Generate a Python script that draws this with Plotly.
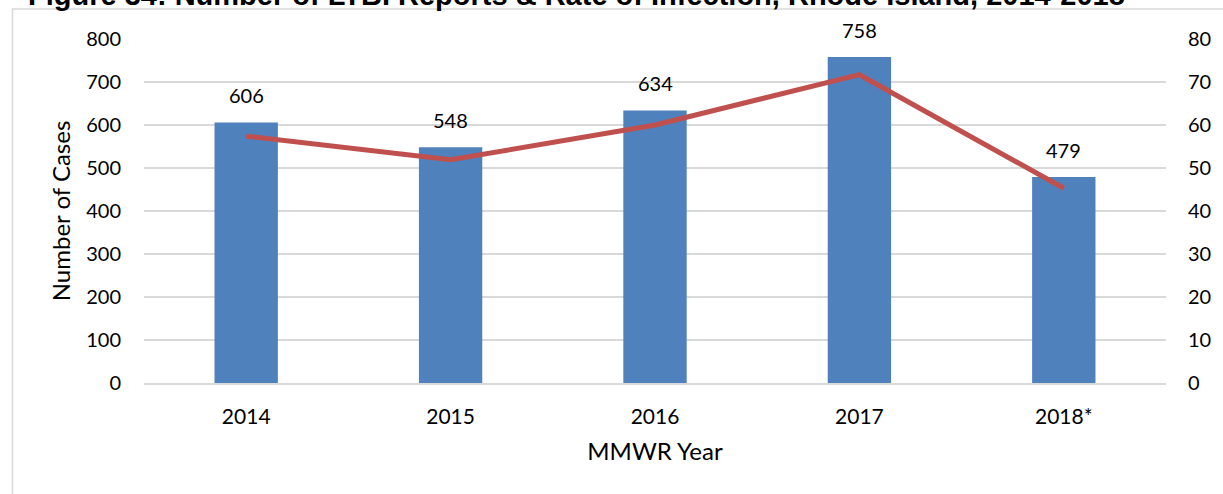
import plotly.graph_objects as go

# Reported LTBI cases and rate per 100,000 by MMWR year
years = ["2014", "2015", "2016", "2017", "2018*"]
cases = [606, 548, 634, 758, 479]
rates = [57.4, 51.9, 60.0, 71.7, 45.3]

W, H = 1223, 494
ML, MR, MT, MB = 144, 53, 39, 111
PW, PH = W - ML - MR, H - MT - MB


def px_x(p):
    return (p - ML) / PW


def px_y(p):
    return (H - MB - p) / PH


FONT = "Lato"
TXT = "#000000"
GRID = "#D9D9D9"

fig = go.Figure()

fig.add_trace(go.Bar(
    x=years, y=cases, name="Number of Cases",
    marker=dict(color="#4F81BD", line=dict(width=0)),
    yaxis="y",
))

fig.add_trace(go.Scatter(
    x=years, y=rates, name="Rate",
    mode="lines",
    line=dict(color="#C0504D", width=5),
    yaxis="y2",
))

# value labels above the bars (x given as category index)
for i, c in enumerate(cases):
    fig.add_annotation(
        x=i, y=c, xref="x", yref="y",
        text=str(c), showarrow=False,
        yanchor="bottom", yshift=13,
        font=dict(family=FONT, size=20, color=TXT),
    )

# figure heading
fig.add_annotation(
    x=px_x(26), y=px_y(-5), xref="paper", yref="paper",
    xanchor="left", yanchor="middle",
    text="Figure 34: Number of LTBI Reports &amp; Rate of Infection, Rhode Island, 2014-2018",
    showarrow=False,
    font=dict(family="Liberation Sans", size=29, color=TXT, weight="bold"),
)

# chart frame
fig.add_shape(
    type="rect", xref="paper", yref="paper",
    x0=px_x(12), y0=px_y(H + 20), x1=px_x(W + 20), y1=px_y(9),
    line=dict(color=GRID, width=1.5), fillcolor="rgba(0,0,0,0)",
    layer="below",
)

fig.update_layout(
    width=W, height=H,
    margin=dict(l=ML, r=MR, t=MT, b=MB),
    paper_bgcolor="white", plot_bgcolor="white",
    showlegend=False,
    bargap=0.69,
    font=dict(family=FONT, size=20, color=TXT),
    xaxis=dict(
        type="category", range=[-0.5, len(years) - 0.5], autorange=False,
        showgrid=False, showline=True, linecolor=GRID, linewidth=1.5,
        ticks="", ticklabelstandoff=14,
        tickfont=dict(family=FONT, size=21, color=TXT),
        title=dict(text="MMWR Year", font=dict(family=FONT, size=24, color=TXT), standoff=16),
    ),
    yaxis=dict(
        range=[0, 800], dtick=100, autorange=False,
        showgrid=True, gridcolor=GRID, gridwidth=1.5,
        zeroline=False, showline=False, ticks="",
        ticklabelstandoff=22,
        tickfont=dict(family=FONT, size=20, color=TXT),
        title=dict(text="Number of Cases", font=dict(family=FONT, size=24, color=TXT), standoff=8),
    ),
    yaxis2=dict(
        range=[0, 80], dtick=10, autorange=False,
        overlaying="y", side="right",
        showgrid=False, zeroline=False, showline=False, ticks="",
        ticklabelstandoff=21,
        tickfont=dict(family=FONT, size=20, color=TXT),
    ),
)

fig.write_html("out.html")
